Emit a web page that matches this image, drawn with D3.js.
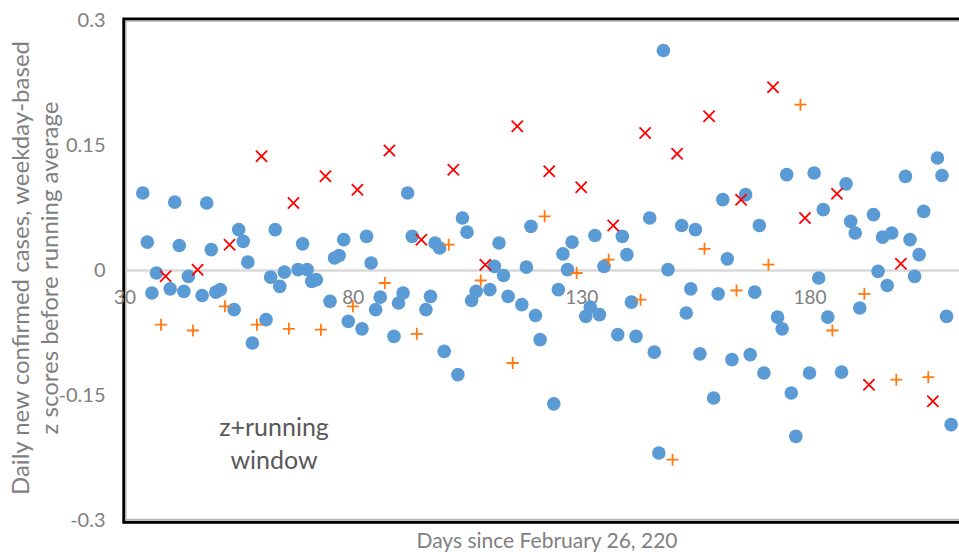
<!DOCTYPE html>
<html>
<head>
<meta charset="utf-8">
<script src="https://cdn.jsdelivr.net/npm/d3@7"></script>
<style>
  html, body { margin: 0; padding: 0; background: #fff; }
  svg { display: block; }
  text { font-family: Lato, "Open Sans", "Noto Sans", sans-serif; }
</style>
</head>
<body>
<svg id="chart" width="959" height="552"></svg>
<script>
// Weekday-based z scores of daily new confirmed cases, relative to a running average.
// Blue circles: ordinary weekdays; red crosses and orange pluses: the two special weekdays.
const blueDays = [34,35,36,37, 40,41,42,43,44, 47,48,49,50,51, 54,55,56,57,58,
  61,62,63,64,65, 68,69,70,71,72, 75,76,77,78,79, 82,83,84,85,86, 89,90,91,92,93,
  96,97,98,99,100, 103,104,105,106,107, 110,111,112,113,114, 117,118,119,120,121,
  124,125,126,127,128, 131,132,133,134,135, 138,139,140,141,142, 145,146,147,148,149,
  152,153,154,155,156, 159,160,161,162,163, 166,167,168,169,170, 173,174,175,176,177,
  180,181,182,183,184, 187,188,189,190,191, 194,195,196,197,198, 201,202,203,204,205,
  208,209,210,211];
const blueValues = [0.093,0.034,-0.027,-0.003, -0.022,0.082,0.030,-0.025,-0.007,
  -0.030,0.081,0.025,-0.026,-0.023, -0.047,0.049,0.035,0.010,-0.087,
  -0.059,-0.008,0.049,-0.019,-0.002, 0.001,0.032,0.001,-0.013,-0.011,
  -0.037,0.015,0.018,0.037,-0.061, -0.070,0.041,0.009,-0.047,-0.032,
  -0.079,-0.039,-0.027,0.093,0.041, -0.047,-0.031,0.033,0.027,-0.097,
  -0.125,0.063,0.046,-0.036,-0.025, -0.023,0.005,0.033,-0.006,-0.031,
  -0.041,0.004,0.053,-0.054,-0.083, -0.160,-0.023,0.020,0.001,0.034,
  -0.055,-0.044,0.042,-0.053,0.005, -0.077,0.041,0.019,-0.038,-0.079,
  0.063,-0.098,-0.219,0.264,0.001, 0.054,-0.051,-0.022,0.049,-0.100,
  -0.153,-0.028,0.085,0.014,-0.107, 0.091,-0.101,-0.026,0.054,-0.123,
  -0.056,-0.070,0.115,-0.147,-0.199, -0.123,0.117,-0.009,0.073,-0.056,
  -0.122,0.104,0.059,0.045,-0.045, 0.067,-0.001,0.040,-0.018,0.045,
  0.113,0.037,-0.007,0.019,0.071, 0.135,0.114,-0.055,-0.185];

const redDays = [39,46,53,60,67,74,81,88,95,102,109,116,123,130,137,144,151,158,165,172,179,186,193,200,207];
const redValues = [-0.007,0.001,0.031,0.137,0.081,0.113,0.097,0.144,0.037,0.121,0.007,0.173,
  0.119,0.100,0.054,0.165,0.140,0.185,0.085,0.220,0.063,0.092,-0.137,0.008,-0.157];

const orangeDays = [38,45,52,59,66,73,80,87,94,101,108,115,122,129,136,143,150,157,164,171,178,185,192,199,206];
const orangeValues = [-0.065,-0.072,-0.043,-0.065,-0.070,-0.071,-0.043,-0.015,-0.076,0.031,-0.012,-0.111,
  0.065,-0.003,0.013,-0.035,-0.227,0.026,-0.024,0.007,0.199,-0.072,-0.028,-0.131,-0.128];

const xTicks = [30, 80, 130, 180];
const yTicks = [-0.3, -0.15, 0, 0.15, 0.3];
const yTickLabels = ["-0.3", "-0.15", "0", "0.15", "0.3"];

const xTitle = "Days since February 26, 220";
const yTitleLines = ["Daily new confirmed cases, weekday-based", "z scores before running average"];
const noteLines = ["z+running", "window"];

const svg = d3.select("#chart");

const x = d3.scaleLinear().domain([30, 215]).range([124.5, 969.4]);
const y = d3.scaleLinear().domain([-0.3, 0.3]).range([520.5, 20.5]);

const tickColor = "#808080";

// plot area frame: heavy black outline with a thin grey inner line
const frame = svg.append("g");
frame.append("rect")
  .attr("x", x(30) - 0.7).attr("y", y(0.3) - 1.5)
  .attr("width", 1100).attr("height", y(-0.3) - y(0.3) + 3.3)
  .attr("fill", "none").attr("stroke", "#000").attr("stroke-width", 3);
frame.append("rect")
  .attr("x", x(30) + 1.4).attr("y", y(0.3) + 0.6)
  .attr("width", 1100).attr("height", y(-0.3) - y(0.3) - 1.6)
  .attr("fill", "none").attr("stroke", "#b4b4b4").attr("stroke-width", 1.4);

// zero line
svg.append("line")
  .attr("x1", x(30) + 2).attr("x2", 959)
  .attr("y1", y(0)).attr("y2", y(0))
  .attr("stroke", "#d9d9d9").attr("stroke-width", 2.5);

// y axis labels
const yAxis = d3.axisLeft(y)
  .tickValues(yTicks)
  .tickSize(0)
  .tickPadding(19)
  .tickFormat((d, i) => yTickLabels[i]);
const gy = svg.append("g").attr("transform", `translate(${x(30)},0)`).call(yAxis);
gy.select(".domain").remove();
gy.selectAll("text").attr("fill", tickColor).style("font-size", "20px")
  .style("font-family", "Lato, 'Open Sans', sans-serif");

// x axis labels sit along the zero line
const xAxis = d3.axisBottom(x)
  .tickValues(xTicks)
  .tickSize(0)
  .tickPadding(20)
  .tickFormat(d3.format("d"));
const gx = svg.append("g").attr("transform", `translate(0,${y(0)})`).call(xAxis);
gx.select(".domain").remove();
gx.selectAll("text").attr("fill", tickColor).style("font-size", "19px")
  .style("font-family", "Lato, 'Open Sans', sans-serif");

// markers: circles first, then crosses and pluses on top
const r = 6.8;
svg.append("g").selectAll("circle")
  .data(blueDays.map((d, i) => [d, blueValues[i]]))
  .join("circle")
  .attr("cx", d => x(d[0])).attr("cy", d => y(d[1]))
  .attr("r", r).attr("fill", "#5b9bd5");

const cross = 5.6;
svg.append("g").selectAll("path")
  .data(redDays.map((d, i) => [d, redValues[i]]))
  .join("path")
  .attr("d", d => {
    const cx = x(d[0]), cy = y(d[1]);
    return `M${cx - cross},${cy - cross}L${cx + cross},${cy + cross}M${cx - cross},${cy + cross}L${cx + cross},${cy - cross}`;
  })
  .attr("stroke", "#ff0000").attr("stroke-width", 1.8).attr("fill", "none");

const plus = 6;
svg.append("g").selectAll("path")
  .data(orangeDays.map((d, i) => [d, orangeValues[i]]))
  .join("path")
  .attr("d", d => {
    const cx = x(d[0]), cy = y(d[1]);
    return `M${cx - plus},${cy}L${cx + plus},${cy}M${cx},${cy - plus}L${cx},${cy + plus}`;
  })
  .attr("stroke", "#ff7a12").attr("stroke-width", 1.8).attr("fill", "none");

// axis titles
svg.append("text")
  .attr("x", 547).attr("y", 548)
  .attr("text-anchor", "middle")
  .attr("fill", tickColor).style("font-size", "21px")
  .text(xTitle);

const yTitle = svg.append("text")
  .attr("transform", "translate(0,268) rotate(-90)")
  .attr("text-anchor", "middle")
  .attr("fill", tickColor).style("font-size", "24px");
yTitleLines.forEach((t, i) => {
  yTitle.append("tspan").attr("x", 0).attr("y", 29 + i * 29).text(t);
});

// annotation inside the plot
const note = svg.append("text")
  .attr("text-anchor", "middle")
  .attr("fill", "#595959").style("font-size", "25px");
noteLines.forEach((t, i) => {
  note.append("tspan").attr("x", 274).attr("y", 436 + i * 33).text(t);
});
</script>
</body>
</html>
